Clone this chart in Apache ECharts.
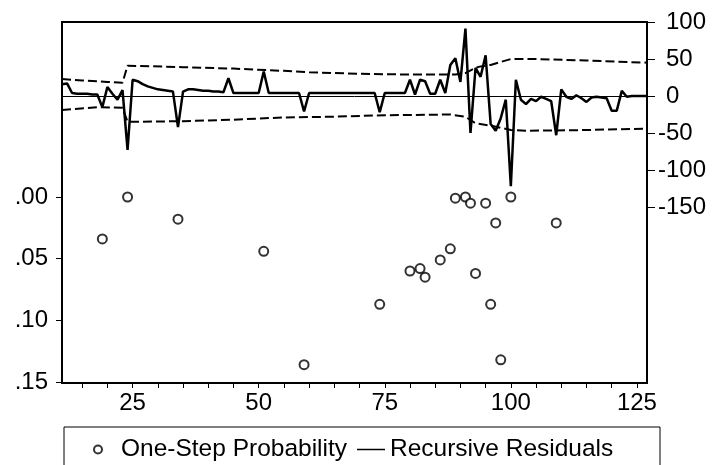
<!DOCTYPE html>
<html><head><meta charset="utf-8">
<script src="https://cdn.jsdelivr.net/npm/echarts@6/dist/echarts.min.js"></script>
<style>html,body{margin:0;padding:0;background:#fff}#c{width:717px;height:465px}</style>
</head><body><div id="c"></div>
<script>
// Observation range
const obsStart = 11;
const obsEnd = 127;
// Recursive residuals, obs 11..127
const residuals = [
  16,17,4,3,3,3,2,2,-15,12,
  3,-5,8,-73,22,20,16,13,11,9,
  8,7,6,-42,6,9,9,8,7,7,
  6,6,5,24,4,4,4,4,4,4,
  33,4,4,4,4,4,4,4,-21,4,
  4,4,4,4,4,4,4,4,4,4,
  4,4,4,-22,4,4,4,4,4,22,
  2,22,20,3,3,22,4,42,51,19,
  91,-50,38,26,55,-38,-47,-30,-5,-122,
  22,-5,-11,-4,-7,-1,-4,-7,-53,9,
  -1,-4,1,-3,-8,-2,-1,-2,-3,-20,
  -20,7,-1,0,0,0,0
];
// +/- 2 S.E. bands as [obs, value]
const upperBand = [[11,23],[15,21],[20,19],[23,18],[24,41],[35,39],[45,37],[55,34],[60,32],[70,30],[80,29],[89,29],[91,31],[93,38],[94,40],[96,42],[98,46],[100,50],[105,50],[115,48],[127,45]];
const lowerBand = [[11,-19],[18,-15],[23,-16],[24,-35],[35,-34],[45,-32],[55,-29],[65,-28],[75,-26],[88,-25],[91,-28],[93,-37],[96,-40],[98,-43],[100,-46],[103,-47],[115,-46],[127,-44]];
// One-step probabilities
const probObs = [19,24,34,51,59,74,80,82,83,86,88,89,91,92,93,95,96,97,98,100,109];
const probVal = [0.034,0.000,0.018,0.044,0.136,0.087,0.060,0.058,0.065,0.051,0.042,0.001,0.000,0.005,0.062,0.005,0.087,0.021,0.132,0.000,0.021];
// Axis ticks
const xTickLabels = [25,50,75,100,125];
const xTicks = [15,20,25,30,35,40,45,50,55,60,65,70,75,80,85,90,95,100,105,110,115,120,125];
const rightMin = -150, rightMax = 100, rightStep = 50;
const leftMin = 0, leftMax = 0.15, leftStep = 0.05;
const seriesNames = ['One-Step Probability','Recursive Residuals'];

const residData = residuals.map((v,i)=>[obsStart+i, v]);
const probData = probObs.map((o,i)=>[o, probVal[i]]);
const F = '"Liberation Sans", Arial, sans-serif';
const FS = 24;
const LFS = 24.5;

const chart = echarts.init(document.getElementById('c'), null, {renderer:'canvas'});
chart.setOption({
  animation:false,
  backgroundColor:'#fff',
  grid:[
    {left:62, top:22, width:585, height:361, show:true, borderColor:'#000', borderWidth:2, backgroundColor:'transparent'},
    {left:62, top:22, width:585, height:185},
    {left:62, top:197, width:585, height:185}
  ],
  xAxis:[
    {gridIndex:0, type:'value', min:obsStart, max:obsEnd,
      axisLine:{show:false}, splitLine:{show:false},
      axisTick:{show:true, inside:false, length:5, customValues:xTicks, lineStyle:{color:'#000', width:1}},
      axisLabel:{customValues:xTickLabels, color:'#000', fontSize:FS, fontFamily:F, margin:8}},
    {gridIndex:1, type:'value', min:obsStart, max:obsEnd, show:false},
    {gridIndex:2, type:'value', min:obsStart, max:obsEnd, show:false}
  ],
  yAxis:[
    {gridIndex:0, type:'value', min:0, max:1, show:false},
    // right axis: ticks + non-negative labels
    {gridIndex:1, type:'value', position:'right', min:rightMin, max:rightMax, interval:rightStep,
      axisLine:{show:false}, splitLine:{show:false},
      axisTick:{show:true, inside:false, length:8, lineStyle:{color:'#000', width:1}},
      axisLabel:{color:'#000', fontSize:FS, fontFamily:F, margin:19, formatter:v=>v>=0?String(v):''}},
    // left axis: probabilities
    {gridIndex:2, type:'value', position:'left', inverse:true, min:leftMin, max:leftMax, interval:leftStep,
      axisLine:{show:false}, splitLine:{show:false},
      axisTick:{show:true, inside:false, length:6, lineStyle:{color:'#000', width:1}},
      axisLabel:{color:'#000', fontSize:FS, fontFamily:F, margin:14,
        formatter:v=>v.toFixed(2).replace(/^0/,'')}},
    // right axis: negative labels with hanging minus sign
    {gridIndex:1, type:'value', position:'right', min:rightMin, max:rightMax, interval:rightStep,
      axisLine:{show:false}, splitLine:{show:false}, axisTick:{show:false},
      axisLabel:{color:'#000', fontSize:FS, fontFamily:F, margin:11, formatter:v=>v<0?String(v):''}}
  ],
  legend:[
    {data:[{name:seriesNames[0], icon:'emptyCircle'}], left:88, top:432, itemWidth:10, itemHeight:8,
      textStyle:{color:'#000', fontSize:LFS, fontFamily:F, padding:[0,0,0,13]}, selectedMode:false},
    {data:[{name:seriesNames[1], icon:'rect'}], left:352, top:432, itemWidth:28, itemHeight:1.5,
      itemStyle:{color:'#000'},
      textStyle:{color:'#000', fontSize:LFS, fontFamily:F}, selectedMode:false}
  ],
  graphic:[
    {type:'rect', shape:{x:64, y:427, width:596, height:60}, style:{fill:'none', stroke:'#000', lineWidth:1}, silent:true}
  ],
  series:[
    {name:'upper', type:'line', xAxisIndex:1, yAxisIndex:1, data:upperBand, symbol:'none',
      lineStyle:{color:'#000', width:2, type:[9,4]}, silent:true},
    {name:'lower', type:'line', xAxisIndex:1, yAxisIndex:1, data:lowerBand, symbol:'none',
      lineStyle:{color:'#000', width:2, type:[9,4]}, silent:true},
    {name:seriesNames[1], type:'line', xAxisIndex:1, yAxisIndex:1, data:residData, symbol:'none',
      lineStyle:{color:'#000', width:2.5}, itemStyle:{color:'#000'},
      markLine:{silent:true, symbol:'none', label:{show:false}, lineStyle:{color:'#000', width:1, type:'solid'}, data:[{yAxis:0}]}},
    {name:seriesNames[0], type:'scatter', xAxisIndex:2, yAxisIndex:2, data:probData,
      symbol:'emptyCircle', symbolSize:9, itemStyle:{color:'#000', borderWidth:2.5}}
  ]
});
</script></body></html>
